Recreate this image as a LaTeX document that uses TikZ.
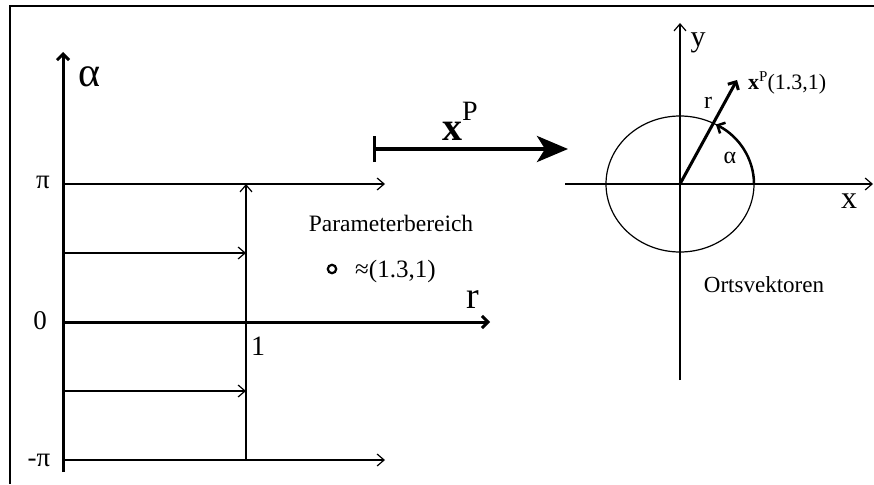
\documentclass[tikz,border=0pt]{standalone}
\usepackage{fontspec}
\setmainfont{Liberation Serif}
\usetikzlibrary{arrows.meta}
\newcommand\fsz[1]{\fontsize{#1}{#1}\selectfont}

\begin{document}
\begin{tikzpicture}[x=1pt,y=-1pt,
    thinarr/.style={line width=1.2pt,-{Straight Barb[length=7pt,width=12pt]}},
    axisarr/.style={line width=3pt,-{Straight Barb[length=6pt,width=12pt]}},
    lbl/.style={inner sep=0pt,anchor=base}]
  \useasboundingbox (0,0) rectangle (874,484);
  \draw[line width=2pt] (874,6) -- (10,6) -- (10,484);
  % parameter domain
  \draw[axisarr] (63,472) -- (63,52);
  \draw[axisarr] (63,322) -- (490,322);
  \foreach \yy/\xe in {184/385, 253/246, 391/246, 460/385}
    \draw[thinarr] (63,\yy) -- (\xe,\yy);
  \draw[thinarr] (246,460) -- (246,184);
  \draw[line width=2.2pt] (332,269) circle (4.2);
  \node[lbl] (alpha) at (90,87) {\fsz{42}α};
  \node[lbl] (pi) at (43,188) {\fsz{27}π};
  \node[lbl] (zero) at (40,329) {\fsz{27}0};
  \node[lbl] (mpi) at (39,466) {\fsz{27}-π};
  \node[lbl] (one) at (258,355) {\fsz{28}1};
  \node[lbl] (rlbl) at (473,308) {\fsz{38}r};
  \node[lbl] (param) at (391,231) {\fsz{23.5}Parameterbereich};
  \node[lbl,anchor=base west] (approx) at (355,277) {\fsz{25}≈(1.3,1)};
  % mapping
  \draw[line width=4pt,{Bar[width=26pt,line width=3pt]}-{Stealth[length=31pt,width=26pt,inset=8pt]}] (373,149) -- (568,149);
  \node[lbl,anchor=base west] (xp) at (442,140) {\fsz{40}\textbf{x}\raisebox{20pt}{\fsz{28}P}};
  % position vectors
  \draw[thinarr] (565,184) -- (873,184);
  \draw[thinarr] (680,380) -- (680,23);
  \draw[line width=1.2pt] (680,184) ellipse (74 and 68);
  \draw[line width=3pt,-{Straight Barb[length=6pt,width=12pt]}] (680,184) -- (737,80);
  \draw[line width=2.5pt,-{Straight Barb[length=6pt,width=12pt]}] (754,184) arc (0:-61:74 and 68);
  \node[lbl] (ylbl) at (698,47) {\fsz{30}y};
  \node[lbl] (xlbl) at (849,208) {\fsz{32}x};
  \node[lbl] (rvec) at (708,108) {\fsz{24}r};
  \node[lbl] (avec) at (730,163) {\fsz{24}α};
  \node[lbl,anchor=base west] (xpt) at (748,90) {\fsz{22}\textbf{x}\raisebox{9pt}{\fsz{15}P}(1.3,1)};
  \node[lbl] (orts) at (764,292) {\fsz{23}Ortsvektoren};
\end{tikzpicture}
\end{document}
